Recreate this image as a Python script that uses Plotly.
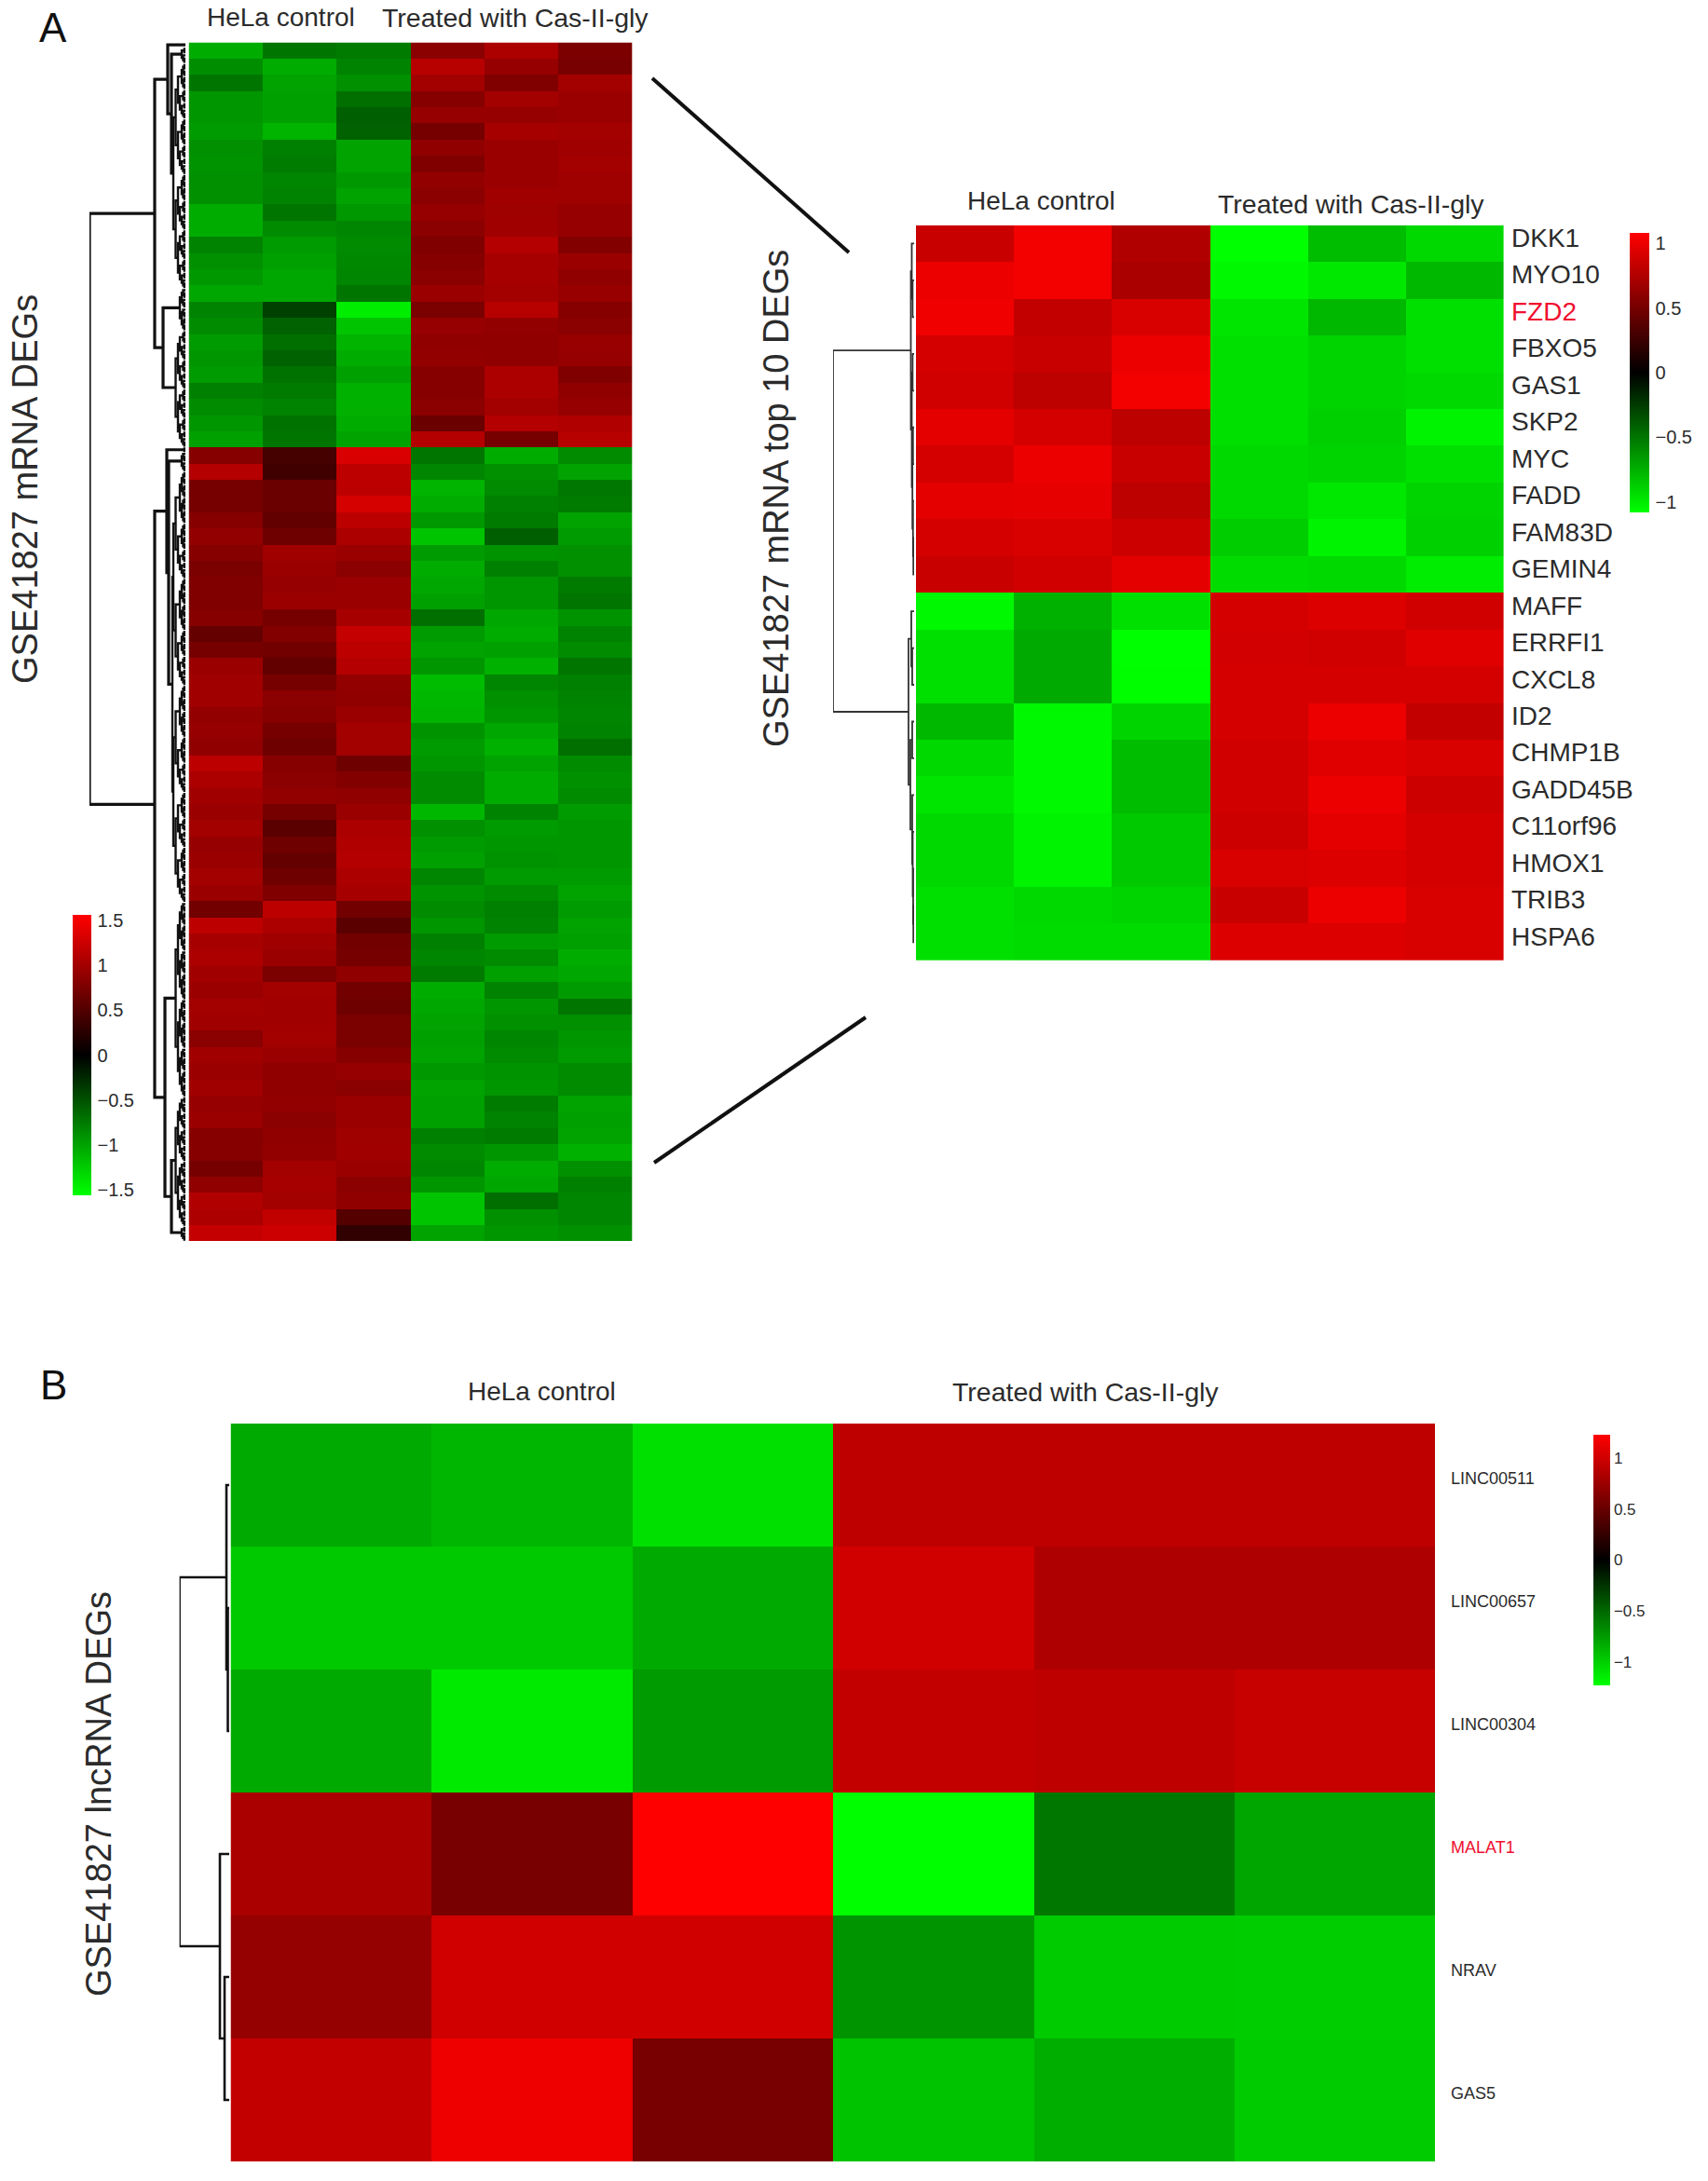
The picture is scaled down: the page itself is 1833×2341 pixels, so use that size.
import math
import plotly.graph_objects as go

W, H = 1833, 2341
FONT = "Liberation Sans"
TEXT = "#2b2b2b"
COLORSCALE = [[0, "#00ff00"], [0.5, "#000000"], [1, "#ff0000"]]

mrna_down_rows = [
    [-1.05, -.72, -.75, .85, 1.05, .76],
    [-.87, -1.05, -.80, 1.12, .92, .74],
    [-.72, -1.0, -.88, 1.0, .78, 1.0],
    [-.92, -.98, -.68, .82, 1.0, .95],
    [-.92, -.98, -.58, .92, .92, .95],
    [-.95, -1.1, -.60, .72, 1.02, 1.0],
    [-.88, -.78, -1.0, .88, .95, .98],
    [-.90, -.76, -1.0, .78, .95, 1.0],
    [-.88, -.82, -.93, .90, .95, .97],
    [-.88, -.80, -1.0, .85, .98, .97],
    [-1.05, -.72, -.93, .92, .97, .92],
    [-1.05, -.85, -.82, .85, .98, .92],
    [-.80, -.95, -.85, .78, 1.1, .80],
    [-.88, -.98, -.83, .82, 1.02, .95],
    [-.93, -1.02, -.82, .85, 1.02, .88],
    [-1.02, -1.02, -.72, .95, 1.0, .93],
    [-.80, -.40, -1.45, .75, 1.12, .82],
    [-.85, -.60, -1.2, .92, .90, .85],
    [-.95, -.68, -1.1, .88, .88, .93],
    [-.92, -.60, -1.05, .90, .88, .92],
    [-.95, -.70, -.98, .82, 1.05, .78],
    [-.78, -.75, -1.08, .82, 1.05, .88],
    [-.85, -.80, -1.08, .85, 1.0, .92],
    [-.92, -.70, -1.05, .65, 1.1, 1.08],
    [-.98, -.72, -1.0, 1.1, .72, 1.12],
]
mrna_up_rows = [
    [.82, .42, 1.32, -.72, -1.05, -.85],
    [1.1, .40, 1.15, -.82, -.88, -1.0],
    [.72, .65, 1.15, -1.1, -.85, -.73],
    [.72, .65, 1.3, -1.05, -.78, -.75],
    [.82, .60, 1.15, -.93, -.75, -1.0],
    [.90, .68, 1.05, -1.2, -.58, -.95],
    [.82, .98, .95, -.95, -.90, -.88],
    [.75, .95, .85, -1.05, -.78, -.88],
    [.78, .92, .95, -1.02, -.92, -.75],
    [.78, .95, .95, -.98, -.92, -.72],
    [.82, .72, 1.02, -.68, -1.02, -.90],
    [.62, .80, 1.2, -.95, -1.05, -.80],
    [.72, .70, 1.15, -1.0, -.98, -.85],
    [.95, .60, 1.1, -.92, -1.08, -.72],
    [.98, .72, .90, -1.15, -.82, -.78],
    [.98, .85, .88, -1.12, -.88, -.80],
    [.90, .82, .95, -1.1, -.92, -.82],
    [.92, .72, 1.0, -.90, -1.02, -.80],
    [.88, .68, 1.0, -.95, -1.08, -.68],
    [1.15, .82, .68, -.92, -1.0, -.85],
    [1.05, .85, .80, -.85, -1.05, -.88],
    [.98, .90, .88, -.85, -1.05, -.85],
    [.95, .72, .95, -1.12, -.80, -.95],
    [1.0, .55, 1.05, -.88, -.95, -.92],
    [.92, .68, 1.08, -.95, -.92, -.92],
    [.95, .62, 1.1, -.98, -.90, -.92],
    [1.0, .68, 1.05, -.82, -.95, -.95],
    [.95, .78, 1.02, -.90, -.85, -1.0],
    [.70, 1.15, .70, -.85, -.78, -.95],
    [1.15, 1.05, .55, -.92, -.80, -1.0],
    [1.02, .98, .70, -.78, -.95, -.98],
    [1.05, .95, .72, -.82, -.85, -1.05],
    [.98, .75, .88, -.75, -.98, -1.02],
    [.95, 1.0, .70, -1.05, -.80, -.95],
    [1.0, .98, .68, -1.02, -.92, -.72],
    [.98, .98, .75, -1.0, -.88, -.88],
    [.85, 1.0, .75, -.98, -.82, -.92],
    [.98, .95, .82, -1.0, -.85, -.95],
    [.95, .88, .92, -.93, -.90, -.85],
    [.98, .88, .85, -1.0, -.92, -.85],
    [.92, .90, .95, -.98, -.75, -1.0],
    [.95, .85, .95, -.98, -.80, -.98],
    [.82, .88, .97, -.78, -.75, -1.0],
    [.82, .90, .98, -.85, -.92, -1.08],
    [.72, 1.0, .95, -.82, -1.05, -.88],
    [.88, 1.02, .85, -.92, -1.02, -.78],
    [1.08, 1.0, .88, -1.2, -.68, -.82],
    [1.05, 1.18, .52, -1.2, -.88, -.82],
    [1.2, 1.25, .30, -1.0, -.92, -.88],
]
mrna_ticks = [1.5, 1, 0.5, 0, -0.5, -1, -1.5]

# Panel A, right: top 10 DEGs
top_genes = ["DKK1", "MYO10", "FZD2", "FBXO5", "GAS1", "SKP2", "MYC", "FADD", "FAM83D", "GEMIN4",
             "MAFF", "ERRFI1", "CXCL8", "ID2", "CHMP1B", "GADD45B", "C11orf96", "HMOX1", "TRIB3", "HSPA6"]
top_rows = [
    [.85, 1.03, .75, -1.08, -.80, -.92],
    [1.0, 1.03, .72, -1.05, -.98, -.78],
    [1.02, .82, .92, -.97, -.78, -.95],
    [.90, .85, 1.0, -.95, -.90, -.95],
    [.88, .80, 1.03, -.95, -.90, -.92],
    [.97, .90, .80, -.95, -.88, -1.03],
    [.90, 1.0, .85, -.92, -.90, -.95],
    [.97, .98, .80, -.92, -.98, -.90],
    [.90, .92, .87, -.87, -1.03, -.88],
    [.85, .88, .97, -.93, -.92, -1.0],
    [-1.05, -.75, -.95, .90, .93, .88],
    [-.95, -.72, -1.08, .89, .88, .95],
    [-.95, -.72, -1.07, .90, .90, .90],
    [-.78, -1.05, -.90, .90, 1.0, .82],
    [-.92, -1.05, -.80, .88, .95, .92],
    [-.97, -1.05, -.80, .88, 1.0, .87],
    [-.92, -1.03, -.85, .87, .97, .90],
    [-.92, -1.03, -.85, .92, .93, .90],
    [-.95, -.92, -.90, .85, 1.0, .92],
    [-.95, -.93, -.93, .93, .93, .92],
]
top_ticks = [1, 0.5, 0, -0.5, -1]

# Panel B: lncRNA DEGs
lnc_genes = ["LINC00511", "LINC00657", "LINC00304", "MALAT1", "NRAV", "GAS5"]
lnc_rows = [
    [-.82, -.88, -1.08, .92, .92, .92],
    [-.97, -.97, -.82, 1.01, .84, .84],
    [-.82, -1.13, -.75, .94, .92, .96],
    [.82, .58, 1.23, -1.22, -.58, -.80],
    [.72, 1.01, 1.01, -.72, -.98, -.99],
    [.94, 1.15, .58, -.94, -.84, -.98],
]
lnc_ticks = [1, 0.5, 0, -0.5, -1]
highlighted = {"FZD2", "MALAT1"}

# Dendrograms: (height, child, child); an int is one leaf row; ("comb", a, b) a bundle of rows a..b
comb_leaf_step = 0.2
comb_heights = {1: 1.2, 2: 2.5, 3: 4, 4: 6, 5: 8, 6: 10.5, 7: 13, 8: 14}
mrna_tree = (103,
    (33,
        (19, ("comb", -.5, -.2), (15, ("comb", -.2, .8), ("comb", .8, 14.7))),
        (24, ("comb", 14.7, 17.3), ("comb", 17.3, 24.5))),
    (33,
        (20, ("comb", 24.5, 24.8), (18, ("comb", 24.8, 26), ("comb", 26, 52.6))),
        (22, ("comb", 52.6, 64.6), (15, ("comb", 64.6, 72.6), ("comb", 72.6, 73.5)))))
top_tree = (87,
    (3.5,
        (2.5, 0, (1.6, 1, 2)),
        (2.5, (1.6, 3, 4), (1.8, (1.2, 5, 6), (1.2, 7, (.8, 8, 9))))),
    (6,
        (3, 10, (2, 11, 12)),
        (4, (2, 13, 14), (2, 15, (1.5, 16, (1, 17, (.8, 18, 19)))))))
lnc_tree = (53.4,
    (3, 0, (1.5, 1, 2)),
    (10, 3, (5, 4, 5)))


def fx(px):
    return px / W


def fy(py):
    return 1 - py / H


def expand(node):
    if isinstance(node, tuple) and node[0] == "comb":
        return bisect(node[1], node[2])
    return node


def bisect(a, b):
    n = max(1, int(round((b - a) / comb_leaf_step)))
    return split(a, b, n)


def split(a, b, n):
    if n <= 1:
        return (a + b) / 2
    k = min(8, int(math.ceil(math.log2(n))))
    m = n // 2
    mid = a + (b - a) * m / n
    return (comb_heights[k], split(a, mid, m), split(mid, b, n - m))


def segments(node, fine, coarse, cut):
    node = expand(node)
    if not isinstance(node, tuple):
        return 0.0, float(node)
    h, left, right = node
    h1, y1 = segments(left, fine, coarse, cut)
    h2, y2 = segments(right, fine, coarse, cut)
    xs, ys = coarse if h >= cut else fine
    xs += [h1, h, h, h2, None]
    ys += [y1, y1, y2, y2, None]
    return h, (y1 + y2) / 2


def tree_traces(tree, xaxis, yaxis, fine_width, coarse_width, color, cut):
    fine, coarse = ([], []), ([], [])
    segments(tree, fine, coarse, cut)
    out = []
    for (xs, ys), width in ((fine, fine_width), (coarse, coarse_width)):
        out.append(go.Scatter(x=xs, y=ys, mode="lines", xaxis=xaxis, yaxis=yaxis, cliponaxis=False,
                              line=dict(color=color, width=width), showlegend=False, hoverinfo="skip"))
    return out


def colorbar(ticks, x_px, top_px, bottom_px, thick, size, pad):
    return dict(x=fx(x_px), xanchor="left", y=fy(top_px), yanchor="top",
                lenmode="pixels", len=bottom_px - top_px,
                thicknessmode="pixels", thickness=thick, xpad=0, ypad=0,
                outlinewidth=0, ticks="outside", ticklen=pad, tickcolor="rgba(0,0,0,0)", tickvals=ticks,
                tickfont=dict(family=FONT, size=size, color=TEXT))


mrna_rows = mrna_down_rows + mrna_up_rows
fig = go.Figure()
fig.add_trace(go.Heatmap(z=mrna_rows, xaxis="x", yaxis="y", zmin=-1.56, zmax=1.56, colorscale=COLORSCALE,
                         colorbar=colorbar(mrna_ticks, 78, 982, 1283, 20, 20, 3)))
fig.add_traces(tree_traces(mrna_tree, "x2", "y", 2.4, 3.2, "#111111", 15))
fig.add_trace(go.Heatmap(z=top_rows, xaxis="x3", yaxis="y3", zmin=-1.08, zmax=1.08, colorscale=COLORSCALE,
                         colorbar=colorbar(top_ticks, 1749, 250, 550, 21, 20, 3)))
fig.add_traces(tree_traces(top_tree, "x4", "y3", 1.8, 1.8, "#333333", 15))
fig.add_trace(go.Heatmap(z=lnc_rows, xaxis="x5", yaxis="y5", zmin=-1.23, zmax=1.23, colorscale=COLORSCALE,
                         colorbar=colorbar(lnc_ticks, 1710, 1540, 1809, 18, 17, 1)))
fig.add_traces(tree_traces(lnc_tree, "x6", "y5", 2.6, 2.6, "#111111", 15))

hidden = dict(visible=False, fixedrange=True)
fig.update_layout(
    width=W, height=H, margin=dict(l=0, r=0, t=0, b=0), paper_bgcolor="white", plot_bgcolor="white",
    showlegend=False,
    xaxis=dict(domain=[fx(202.5), fx(678.6)], range=[-.5, 5.5], anchor="y", **hidden),
    yaxis=dict(domain=[fy(1332), fy(45.5)], range=[73.5, -.5], anchor="x", **hidden),
    xaxis2=dict(domain=[fx(96), fx(199)], range=[103, 0], anchor="y", **hidden),
    xaxis3=dict(domain=[fx(983), fx(1613.6)], range=[-.5, 5.5], anchor="y3", **hidden),
    yaxis3=dict(domain=[fy(1031), fy(241.7)], range=[19.5, -.5], anchor="x3", **hidden),
    xaxis4=dict(domain=[fx(894), fx(981)], range=[87, 0], anchor="y3", **hidden),
    xaxis5=dict(domain=[fx(247.5), fx(1540)], range=[-.5, 5.5], anchor="y5", **hidden),
    yaxis5=dict(domain=[fy(2320), fy(1528)], range=[5.5, -.5], anchor="x5", **hidden),
    xaxis6=dict(domain=[fx(192.6), fx(246)], range=[53.4, 0], anchor="y5", **hidden),
)


def row_labels(names, xaxis, yaxis, size, xshift, yshift):
    for row, name in enumerate(names):
        fig.add_annotation(text=name, xref=f"{xaxis} domain", x=1, yref=yaxis, y=row, showarrow=False,
                           xanchor="left", yanchor="middle", xshift=xshift, yshift=yshift,
                           font=dict(family=FONT, size=size, color="#f01030" if name in highlighted else TEXT))


row_labels(top_genes, "x3", "y3", 28, 6, 6)
row_labels(lnc_genes, "x5", "y5", 18, 15, 7)


def note(text, x, y, size, angle=0, color=TEXT):
    fig.add_annotation(text=text, x=fx(x), y=fy(y), xref="paper", yref="paper", showarrow=False,
                       xanchor="center", yanchor="middle", textangle=angle,
                       font=dict(family=FONT, size=size, color=color))


GROUP_A = "HeLa control"
GROUP_B = "Treated with Cas-II-gly"
note("A", 57, 29, 44, color="#111111")
note("B", 57, 1486, 44, color="#111111")
note(GROUP_A, 301, 19, 28)
note(GROUP_B, 553, 19, 28.5)
note(GROUP_A, 1117, 215, 28)
note(GROUP_B, 1450, 219, 28.5)
note(GROUP_A, 581, 1493, 28)
note(GROUP_B, 1165, 1494, 28.5)
note("GSE41827 mRNA DEGs", 27, 525, 38, angle=-90)
note("GSE41827 mRNA top 10 DEGs", 833, 535, 38, angle=-90)
note("GSE41827 lncRNA DEGs", 106, 1926, 38, angle=-90)

for x0, y0, x1, y1 in [(700, 84, 911, 271), (702, 1248, 929, 1092)]:
    fig.add_shape(type="line", xref="paper", yref="paper", x0=fx(x0), y0=fy(y0), x1=fx(x1), y1=fy(y1),
                  line=dict(color="#111111", width=4))

fig.write_html("out.html", config={"displayModeBar": False}, post_script="document.body.style.margin='0';")
